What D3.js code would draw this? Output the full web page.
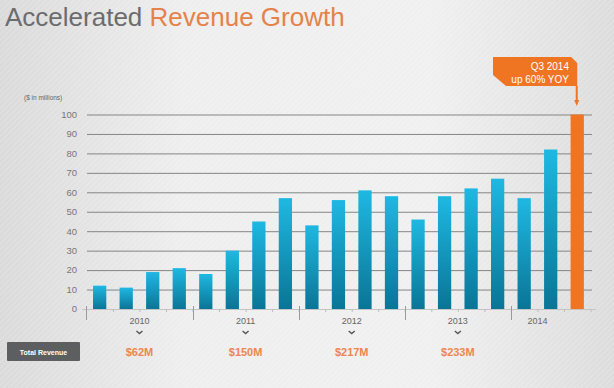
<!DOCTYPE html>
<html>
<head>
<meta charset="utf-8">
<script src="https://cdn.jsdelivr.net/npm/d3@7"></script>
<style>
  html, body { margin: 0; padding: 0; background: #ececec; }
  svg { display: block; }
</style>
</head>
<body>
<div id="chart"></div>
<script>
// Data
var quarters = ["Q1 2010","Q2 2010","Q3 2010","Q4 2010",
                "Q1 2011","Q2 2011","Q3 2011","Q4 2011",
                "Q1 2012","Q2 2012","Q3 2012","Q4 2012",
                "Q1 2013","Q2 2013","Q3 2013","Q4 2013",
                "Q1 2014","Q2 2014","Q3 2014"];
var revenue = [12, 11, 19, 21, 18, 30, 45, 57, 43, 56, 61, 58, 46, 58, 62, 67, 57, 82, 100];
var years = ["2010", "2011", "2012", "2013", "2014"];
var yearTotals = ["$62M", "$150M", "$217M", "$233M", null];
var yTicks = [0, 10, 20, 30, 40, 50, 60, 70, 80, 90, 100];
var highlight = "Q3 2014";
var calloutLines = ["Q3 2014", "up 60% YOY"];

//Setup
var W = 614, H = 388;
var blue_top = "#1fb8e2", blue_bottom = "#0a7596", orange = "#f07522";

var x = d3.scaleBand().domain(quarters).range([86.4, 590.5]).paddingInner(0.5).paddingOuter(0.25);
var y = d3.scaleLinear().domain([0, 100]).range([309, 114.5]);
var step = x.step();

var svg = d3.select("#chart").append("svg")
    .attr("width", W).attr("height", H);

var defs = svg.append("defs");
var bg = defs.append("linearGradient").attr("id", "bg").attr("x1", "0").attr("x2", "1").attr("y1", "0").attr("y2", "0");
bg.append("stop").attr("offset", "0").attr("stop-color", "#dadada");
bg.append("stop").attr("offset", "0.3").attr("stop-color", "#eeeeee");
bg.append("stop").attr("offset", "0.7").attr("stop-color", "#f0f0f0");
bg.append("stop").attr("offset", "1").attr("stop-color", "#dcdcdc");

var bar = defs.append("linearGradient").attr("id", "bar").attr("x1", "0").attr("x2", "0").attr("y1", "0").attr("y2", "1");
bar.append("stop").attr("offset", "0").attr("stop-color", blue_top);
bar.append("stop").attr("offset", "1").attr("stop-color", blue_bottom);

var stripes = defs.append("pattern").attr("id", "stripes")
    .attr("width", 4).attr("height", 4).attr("patternUnits", "userSpaceOnUse")
    .attr("patternTransform", "rotate(45)");
stripes.append("line").attr("x1", 0).attr("y1", 0).attr("x2", 0).attr("y2", 4)
    .attr("stroke", "#ffffff").attr("stroke-width", 1.2).attr("opacity", 0.35);

svg.append("rect").attr("width", W).attr("height", H).attr("fill", "url(#bg)");
svg.append("rect").attr("width", W).attr("height", H).attr("fill", "url(#stripes)");

// Title
var title = svg.append("text").attr("x", 5).attr("y", 26)
    .style("font-family", "'Liberation Sans', Arial, sans-serif")
    .style("font-size", "26px");
title.append("tspan").attr("fill", "#6c6c6e").text("Accelerated ");
title.append("tspan").attr("fill", "#e5824a").text("Revenue Growth");

svg.append("text").attr("x", 24).attr("y", 99.5)
    .style("font-family", "'Liberation Sans', Arial, sans-serif")
    .style("font-size", "6.5px").attr("fill", "#666")
    .text("($ in millions)");

// Gridlines + y labels
svg.append("g").selectAll("line").data(yTicks.filter(d => d > 0)).join("line")
    .attr("x1", 87).attr("x2", 592)
    .attr("y1", d => y(d) + 0.5).attr("y2", d => y(d) + 0.5)
    .attr("stroke", "#858585").attr("stroke-width", 1);

svg.append("g").selectAll("text").data(yTicks).join("text")
    .attr("x", 77).attr("y", d => y(d) + 3.3)
    .attr("text-anchor", "end")
    .style("font-family", "'Liberation Sans', Arial, sans-serif")
    .style("font-size", "9.5px").attr("fill", "#777")
    .text(d => d);

// x axis
svg.append("line").attr("x1", 82).attr("x2", 596)
    .attr("y1", y(0) + 0.5).attr("y2", y(0) + 0.5)
    .attr("stroke", "#c4c4c4").attr("stroke-width", 1);

svg.append("g").selectAll("line").data(quarters).join("line")
    .attr("x1", d => x(d) - x.paddingOuter() * step + step + 0.5)
    .attr("x2", d => x(d) - x.paddingOuter() * step + step + 0.5)
    .attr("y1", y(0)).attr("y2", y(0) + 3)
    .attr("stroke", "#bdbdbd");

function yearStart(yr) {
    var q = quarters.filter(d => d.endsWith(yr))[0];
    return x(q) - x.paddingOuter() * step;
}
function yearCenter(yr) {
    var qs = quarters.filter(d => d.endsWith(yr) && d !== highlight);
    return d3.mean(qs, d => x(d) + x.bandwidth() / 2);
}

svg.append("g").selectAll("line").data(years).join("line")
    .attr("x1", d => Math.round(yearStart(d)) + 0.5)
    .attr("x2", d => Math.round(yearStart(d)) + 0.5)
    .attr("y1", 306).attr("y2", 320)
    .attr("stroke", "#9a9a9a");

svg.append("g").selectAll("text").data(years).join("text")
    .attr("x", d => yearCenter(d)).attr("y", 324)
    .attr("text-anchor", "middle")
    .style("font-family", "'Liberation Sans', Arial, sans-serif")
    .style("font-size", "9px").attr("fill", "#666")
    .text(d => d);

// Bars
svg.append("g").selectAll("rect").data(quarters).join("rect")
    .attr("x", d => x(d))
    .attr("y", (d, i) => y(revenue[i]))
    .attr("width", x.bandwidth())
    .attr("height", (d, i) => y(0) - y(revenue[i]))
    .attr("fill", d => d === highlight ? orange : "url(#bar)");

// Year totals
var totals = years.map((d, i) => ({ year: d, total: yearTotals[i] })).filter(d => d.total);

svg.append("g").selectAll("path").data(totals).join("path")
    .attr("d", d => {
        var cx = yearCenter(d.year);
        return `M${cx - 3},331 L${cx},333.5 L${cx + 3},331`;
    })
    .attr("fill", "none").attr("stroke", "#555").attr("stroke-width", 1.4);

svg.append("g").selectAll("text").data(totals).join("text")
    .attr("x", d => yearCenter(d.year)).attr("y", 356)
    .attr("text-anchor", "middle")
    .style("font-family", "'Liberation Sans Narrow', 'Liberation Sans', Arial, sans-serif")
    .style("font-size", "11px").style("font-weight", "bold")
    .attr("fill", "#ee8550")
    .text(d => d.total);

svg.append("rect").attr("x", 7).attr("y", 342).attr("width", 73).attr("height", 19)
    .attr("rx", 1).attr("fill", "#5d5e60");
svg.append("text").attr("x", 43.5).attr("y", 354.5)
    .attr("text-anchor", "middle")
    .style("font-family", "'Liberation Sans Narrow', 'Liberation Sans', Arial, sans-serif")
    .style("font-size", "7px").style("font-weight", "bold").attr("fill", "#fff")
    .text("Total Revenue");

// Callout
var hx = x(highlight) + x.bandwidth() / 2;
var callout = svg.append("g");
callout.append("path")
    .attr("d", `M493,57 L${hx - 6},57 L${hx},63 L${hx},86 L506,86 L493,75 Z`)
    .attr("fill", orange);
callout.append("line").attr("x1", hx - 0.5).attr("x2", hx - 0.5)
    .attr("y1", 86).attr("y2", 101)
    .attr("stroke", orange).attr("stroke-width", 2);
callout.append("path")
    .attr("d", `M${hx - 3},100 L${hx + 2},100 L${hx - 0.5},106 Z`)
    .attr("fill", orange);
callout.selectAll("text").data(calloutLines).join("text")
    .attr("x", 569).attr("y", (d, i) => 69.5 + i * 13)
    .attr("text-anchor", "end")
    .style("font-family", "'Liberation Sans Narrow', 'Liberation Sans', Arial, sans-serif")
    .style("font-size", "10px").attr("fill", "#fff")
    .text(d => d);
</script>
</body>
</html>
